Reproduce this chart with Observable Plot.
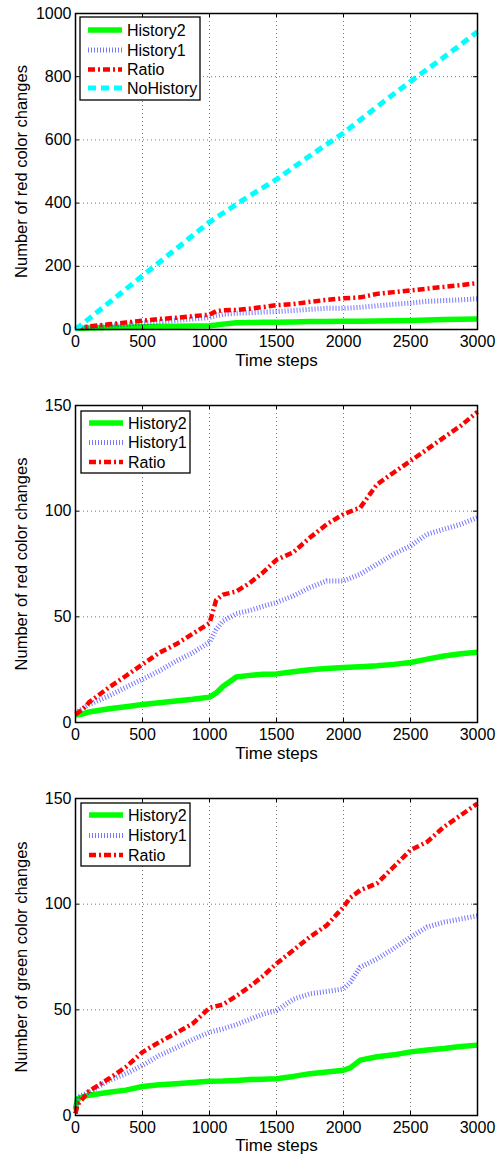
<!DOCTYPE html>
<html><head><meta charset="utf-8">
<script src="https://cdn.jsdelivr.net/npm/d3@7"></script>
<script src="https://cdn.jsdelivr.net/npm/@observablehq/plot@0.6"></script>
<style>
body{margin:0;background:#fff;} #chart{width:499px;} svg{display:block;}
#chart g[aria-label="x-axis tick label"], #chart g[aria-label="y-axis tick label"] { font-size: 16px !important; }
</style>
</head><body><div id="chart"></div>
<script>
// ---------- data ----------
const xTicks = [0, 500, 1000, 1500, 2000, 2500, 3000];
const yTicksTop = [0, 200, 400, 600, 800, 1000];
const yTicksLow = [0, 50, 100, 150];
const xLabel = "Time steps";
const yLabelRed = "Number of red color changes";
const yLabelGreen = "Number of green color changes";
const seriesNames = ["History2", "History1", "Ratio", "NoHistory"];

// red color changes (panels 1 and 2)
const stepsRed = [0, 50, 100, 250, 375, 500, 625, 750, 875, 1000, 1050, 1100, 1200, 1300, 1400, 1500, 1625, 1750, 1875, 2000, 2125, 2250, 2375, 2500, 2625, 2750, 2875, 3000];
const redHistory2 = [3.5, 4, 5, 6.5, 7.5, 8.5, 9.3, 10.2, 11, 12, 14, 17, 21.5, 22.3, 22.8, 23, 24, 25, 25.5, 26, 26.4, 26.8, 27.5, 28.4, 30, 31.5, 32.5, 33.2];
const redHistory1 = [4.7, 6.5, 8.5, 12.6, 16.6, 20.5, 24.4, 29, 33, 38, 44, 48, 51.5, 53, 55, 56.8, 59.9, 63.9, 67, 67, 70.2, 74.9, 79.7, 83.6, 89.1, 91.5, 93.8, 97];
const redRatio = [3.9, 6, 9.5, 16.6, 22, 27.5, 33, 37, 42, 47, 58, 60.5, 62, 66, 71, 77, 80.5, 87.5, 93.8, 98.6, 101.7, 112.7, 118.3, 123.8, 129.3, 134.9, 140.4, 147];
const stepsNoHistory = [0, 250, 500, 750, 1000, 1250, 1500, 1750, 2000, 2250, 2500, 2750, 3000];
const redNoHistory = [0, 85, 170, 255, 340, 410, 475, 550, 622, 705, 785, 862, 942];

// green color changes (panel 3)
const stepsGreen = [0, 15, 100, 250, 375, 500, 625, 750, 875, 1000, 1100, 1200, 1300, 1400, 1500, 1625, 1750, 1875, 2000, 2050, 2125, 2250, 2375, 2500, 2625, 2750, 2875, 3000];
const greenHistory2 = [3, 8, 9.6, 11, 12, 13.7, 14.5, 15, 15.6, 16.2, 16.3, 16.6, 17, 17.2, 17.4, 18.5, 19.8, 20.6, 21.4, 22.5, 26.2, 27.8, 28.7, 30.1, 31, 31.7, 32.6, 33.3];
const greenHistory1 = [1, 8.7, 11, 16.6, 19.7, 23.7, 28.4, 32, 36, 39.4, 41, 43, 45.5, 48, 49.7, 55, 57.6, 58.7, 59.9, 63, 70.2, 74.1, 79, 84.4, 89.2, 91.5, 93, 94.5];
const greenRatio = [1, 5, 11.5, 17.5, 22.9, 30, 34.7, 39, 43.5, 51, 52.5, 56.5, 61, 66, 71.9, 78.2, 84.5, 90, 98.7, 103, 106.6, 109.8, 117.7, 125.6, 129.5, 136.6, 142.1, 147.6];

// ---------- styles ----------
const styles = {
  History2: {stroke: "#00ff00", strokeWidth: 5.5, strokeDasharray: null, strokeOpacity: 1},
  History1: {stroke: "#1a1aff", strokeWidth: 5, strokeDasharray: "1,2", strokeOpacity: 0.6},
  Ratio: {stroke: "#ff0000", strokeWidth: 4.5, strokeDasharray: "7,3,2,3", strokeOpacity: 1},
  NoHistory: {stroke: "#00ffff", strokeWidth: 5, strokeDasharray: "8,5", strokeOpacity: 1}
};
const FONT = "'Liberation Sans', Arial, Helvetica, sans-serif";

function rows(steps, vals) { return steps.map((s, i) => ({step: s, value: vals[i]})); }

function panel({height, plotH, yDomain, yTicks, yLabel, series, legend, xLabelDy}) {
  const W = 499, mL = 75, mR = 22, mT = 13;
  const plotW = W - mL - mR;
  const mB = height - mT - plotH;
  const lines = series.map(s => Plot.line(rows(s.steps, s.values), {
    x: "step", y: "value", ...Object.fromEntries(Object.entries(styles[s.name]).filter(([k, v]) => v != null)),
    strokeLinecap: "butt", strokeLinejoin: "round"
  }));
  const svg = Plot.plot({
    width: W, height, marginLeft: mL, marginRight: mR, marginTop: mT, marginBottom: mB,
    x: {domain: [0, 3000], label: null},
    y: {domain: yDomain, label: null},
    style: {fontFamily: FONT, fontSize: "16px", background: "white", color: "black", overflow: "visible"},
    marks: [
      Plot.gridX(xTicks, {stroke: "#777", strokeOpacity: 1, strokeDasharray: "1,3"}),
      Plot.gridY(yTicks, {stroke: "#777", strokeOpacity: 1, strokeDasharray: "1,3"}),
      ...lines,
      Plot.tickX(xTicks, {x: d => d, insetTop: plotH - 4, stroke: "black"}),
      Plot.tickX(xTicks, {x: d => d, insetBottom: plotH - 4, stroke: "black"}),
      Plot.tickY(yTicks, {y: d => d, insetRight: plotW - 4, stroke: "black"}),
      Plot.tickY(yTicks, {y: d => d, insetLeft: plotW - 4, stroke: "black"}),
      Plot.frame({stroke: "black", strokeWidth: 1.5}),
      Plot.axisX(xTicks, {tickSize: 0, tickPadding: 6, label: null, fontSize: 16, tickFormat: d => String(d)}),
      Plot.axisY(yTicks, {tickSize: 0, tickPadding: 4, label: null, fontSize: 16, tickFormat: d => String(d)}),
      Plot.text([yLabel], {frameAnchor: "left", rotate: -90, dx: -54, fontSize: 16.5, textAnchor: "middle", lineAnchor: "middle"}),
      Plot.text([xLabel], {frameAnchor: "bottom", dy: xLabelDy, fontSize: 17, textAnchor: "middle", lineAnchor: "middle"})
    ]
  });
  // legend box
  const g = d3.select(svg).append("g").attr("text-anchor", "start");
  g.append("rect").attr("x", legend.x0).attr("y", legend.y0)
    .attr("width", legend.x1 - legend.x0).attr("height", legend.y1 - legend.y0)
    .attr("fill", "white").attr("stroke", "black").attr("stroke-width", 1.3);
  series.forEach((s, i) => {
    const y = legend.rows[i];
    const st = styles[s.name];
    g.append("line").attr("x1", legend.x0 + 8).attr("x2", legend.x0 + 42).attr("y1", y).attr("y2", y)
      .attr("stroke", st.stroke).attr("stroke-width", st.strokeWidth)
      .attr("stroke-dasharray", st.strokeDasharray).attr("stroke-opacity", st.strokeOpacity);
    g.append("text").attr("x", legend.x0 + 47).attr("y", y).attr("dy", "0.35em")
      .attr("text-anchor", "start")
      .attr("font-family", FONT).attr("font-size", 16).attr("fill", "black").text(s.name);
  });
  return svg;
}

const chart = document.getElementById("chart");
chart.appendChild(panel({
  height: 392, plotH: 316, yDomain: [0, 1000], yTicks: yTicksTop, yLabel: yLabelRed, xLabelDy: 31,
  series: [
    {name: "History2", steps: stepsRed, values: redHistory2},
    {name: "History1", steps: stepsRed, values: redHistory1},
    {name: "Ratio", steps: stepsRed, values: redRatio},
    {name: "NoHistory", steps: stepsNoHistory, values: redNoHistory}
  ],
  legend: {x0: 80, x1: 200, y0: 17, y1: 100, rows: [30, 50, 69.5, 88]}
}));
chart.appendChild(panel({
  height: 393, plotH: 317, yDomain: [0, 150], yTicks: yTicksLow, yLabel: yLabelRed, xLabelDy: 31,
  series: [
    {name: "History2", steps: stepsRed, values: redHistory2},
    {name: "History1", steps: stepsRed, values: redHistory1},
    {name: "Ratio", steps: stepsRed, values: redRatio}
  ],
  legend: {x0: 81, x1: 190, y0: 19, y1: 81, rows: [31, 50.5, 70]}
}));
chart.appendChild(panel({
  height: 369, plotH: 317, yDomain: [0, 150], yTicks: yTicksLow, yLabel: yLabelGreen, xLabelDy: 30,
  series: [
    {name: "History2", steps: stepsGreen, values: greenHistory2},
    {name: "History1", steps: stepsGreen, values: greenHistory1},
    {name: "Ratio", steps: stepsGreen, values: greenRatio}
  ],
  legend: {x0: 81, x1: 190, y0: 18, y1: 81, rows: [30, 50.5, 70]}
}));
</script>
</body></html>
